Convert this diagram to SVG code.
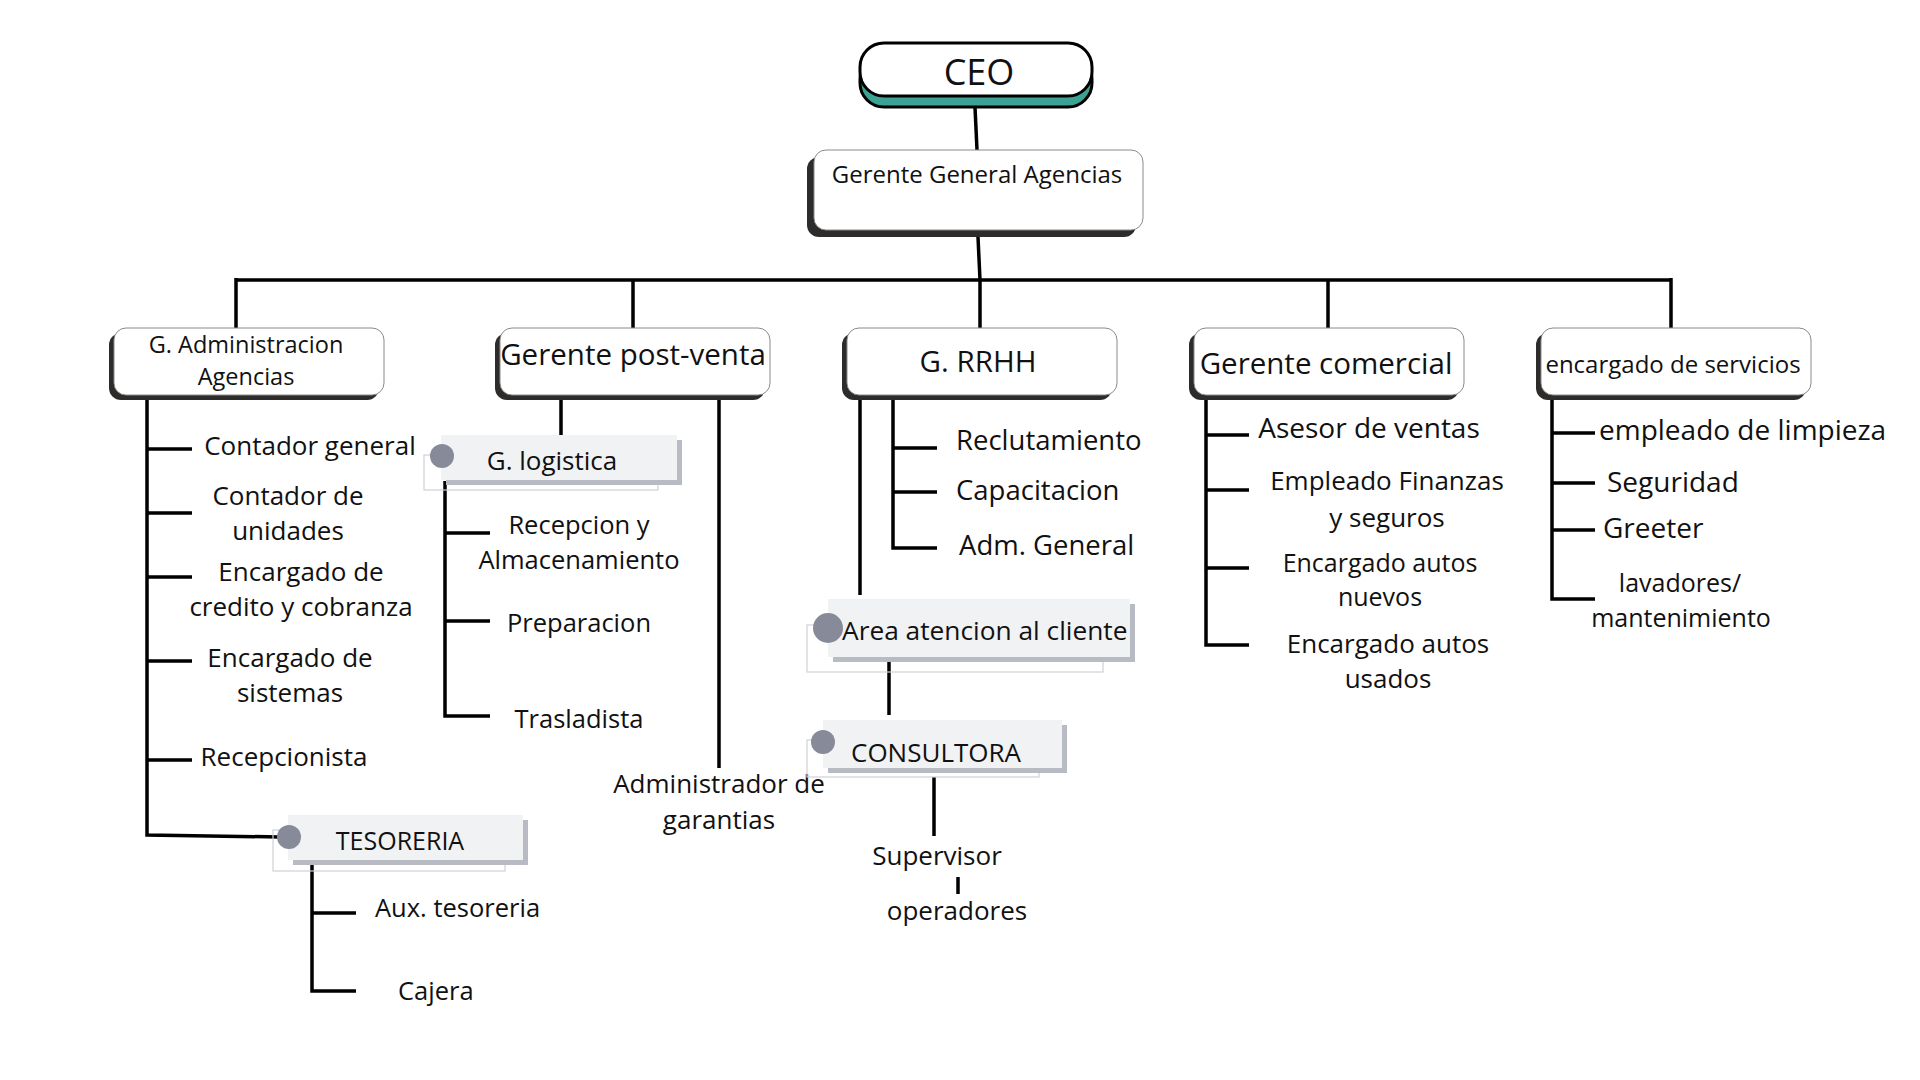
<svg xmlns="http://www.w3.org/2000/svg" width="1920" height="1080" viewBox="0 0 1920 1080">
<style>
text{font-family:"Open Sans","Noto Sans","Liberation Sans",sans-serif;fill:#111;}
.c{text-anchor:middle;}
.ln{stroke:#000;stroke-width:3.5;fill:none;stroke-linecap:butt;}
.sh{fill:#2e2c2a;}
.wb{fill:#fff;stroke:#8a8a8a;stroke-width:1;}
.lb{fill:#f1f2f4;}
.lbs{fill:#b8bbc3;}
.ol{fill:none;stroke:#cfd1d6;stroke-width:1.2;}
.dot{fill:#878a98;}
</style>
<rect width="1920" height="1080" fill="#fff"/>

<g id="connectors">
<path class="ln" d="M975 107 L977 150"/>
<path class="ln" d="M978 237 L980 280 L980 328"/>
<path class="ln" d="M236 280 H1671"/>
<path class="ln" d="M236 278 V328 M633 280 V328 M1328 280 V328 M1671 278 V328"/>
<path class="ln" d="M147 394 V835 L280 837"/>
<path class="ln" d="M147 449 H192 M147 513 H192 M147 577 H192 M147 661 H192 M147 760 H192"/>
<path class="ln" d="M561 399 V435 M719 399 V768"/>
<path class="ln" d="M445 481 V716 H490 M445 533 H490 M445 621 H490"/>
<path class="ln" d="M312 860 V991 H356 M312 913 H356"/>
<path class="ln" d="M860 395 V595 M893 395 V548 H937 M893 448 H937 M893 492 H937"/>
<path class="ln" d="M889 662 V715"/>
<path class="ln" d="M934 777 V836 M958 877 V894"/>
<path class="ln" d="M1206 395 V645 H1249 M1206 435 H1249 M1206 490 H1249 M1206 568 H1249"/>
<path class="ln" d="M1552 395 V599 H1595 M1552 433 H1595 M1552 483 H1595 M1552 530 H1595"/>
</g>

<g id="ceo">
<rect x="860" y="55" width="232" height="52" rx="24" fill="#3aa394" stroke="#000" stroke-width="3"/>
<rect x="860" y="43" width="232" height="53" rx="24" fill="#fff" stroke="#000" stroke-width="3"/>
<text class="c" x="979" y="85" font-size="36">CEO</text>
</g>

<g id="gerente-general">
<rect class="sh" x="807" y="157" width="329" height="80" rx="12"/>
<rect class="wb" x="814" y="150" width="329" height="80" rx="12"/>
<text class="c" x="977" y="183" font-size="24">Gerente General Agencias</text>
</g>

<g id="g-administracion">
<rect class="sh" x="109" y="333" width="270" height="67" rx="12"/>
<rect class="wb" x="114" y="328" width="270" height="67" rx="12"/>
<text class="c" x="246" y="353" font-size="23.5">G. Administracion</text>
<text class="c" x="246" y="385" font-size="23.5">Agencias</text>
</g>

<g id="gerente-postventa">
<rect class="sh" x="495" y="333" width="270" height="67" rx="12"/>
<rect class="wb" x="500" y="328" width="270" height="67" rx="12"/>
<text class="c" x="633" y="365" font-size="29.5">Gerente post-venta</text>
</g>

<g id="g-rrhh">
<rect class="sh" x="842" y="333" width="270" height="67" rx="12"/>
<rect class="wb" x="847" y="328" width="270" height="67" rx="12"/>
<text class="c" x="978" y="372" font-size="29.5">G. RRHH</text>
</g>

<g id="gerente-comercial">
<rect class="sh" x="1189" y="333" width="270" height="67" rx="12"/>
<rect class="wb" x="1194" y="328" width="270" height="67" rx="12"/>
<text class="c" x="1326" y="374" font-size="29.5">Gerente comercial</text>
</g>

<g id="encargado-servicios">
<rect class="sh" x="1536" y="333" width="270" height="67" rx="12"/>
<rect class="wb" x="1541" y="328" width="270" height="67" rx="12"/>
<text class="c" x="1673" y="373" font-size="24">encargado de servicios</text>
</g>

<g id="admin-children" font-size="26">
<text class="c" x="310" y="455">Contador general</text>
<text class="c" x="288" y="505">Contador de</text>
<text class="c" x="288" y="540">unidades</text>
<text class="c" x="301" y="581">Encargado de</text>
<text class="c" x="301" y="616">credito y cobranza</text>
<text class="c" x="290" y="667">Encargado de</text>
<text class="c" x="290" y="702">sistemas</text>
<text class="c" x="284" y="766">Recepcionista</text>
</g>

<g id="tesoreria">
<rect class="ol" x="273" y="830" width="232" height="41"/>
<rect class="lbs" x="293" y="820" width="235" height="45"/>
<rect class="lb" x="288" y="815" width="235" height="45"/>
<circle class="dot" cx="289" cy="837" r="12"/>
<text class="c" x="400" y="850" font-size="25">TESORERIA</text>
</g>
<g id="tesoreria-children" font-size="25.5">
<text x="375" y="917">Aux. tesoreria</text>
<text x="398" y="1000">Cajera</text>
</g>

<g id="g-logistica">
<rect class="ol" x="424" y="455" width="234" height="35"/>
<rect class="lbs" x="446" y="440" width="236" height="45"/>
<rect class="lb" x="441" y="435" width="236" height="45"/>
<circle class="dot" cx="442" cy="456" r="12"/>
<text class="c" x="552" y="470" font-size="26">G. logistica</text>
</g>
<g id="logistica-children" font-size="25.5">
<text class="c" x="579" y="534">Recepcion y</text>
<text class="c" x="579" y="569">Almacenamiento</text>
<text class="c" x="579" y="632">Preparacion</text>
<text class="c" x="579" y="728">Trasladista</text>
</g>
<g id="administrador-garantias" font-size="26">
<text class="c" x="719" y="793">Administrador de</text>
<text class="c" x="719" y="829">garantias</text>
</g>

<g id="rrhh-children" font-size="27.5">
<text x="956" y="450">Reclutamiento</text>
<text x="956" y="500">Capacitacion</text>
<text x="959" y="555">Adm. General</text>
</g>

<g id="area-atencion">
<rect class="ol" x="807" y="625" width="296" height="47"/>
<rect class="lbs" x="833" y="604" width="302" height="58"/>
<rect class="lb" x="828" y="599" width="302" height="58"/>
<circle class="dot" cx="828" cy="628" r="15"/>
<text x="842" y="640" font-size="26.3">Area atencion al cliente</text>
</g>

<g id="consultora">
<rect class="ol" x="807" y="740" width="232" height="37"/>
<rect class="lbs" x="828" y="725" width="239" height="48"/>
<rect class="lb" x="823" y="720" width="239" height="48"/>
<circle class="dot" cx="823" cy="742" r="12"/>
<text x="851" y="762" font-size="26">CONSULTORA</text>
</g>
<g id="supervisor" font-size="26">
<text class="c" x="937" y="865">Supervisor</text>
</g>
<g id="operadores" font-size="26">
<text class="c" x="957" y="920">operadores</text>
</g>

<g id="comercial-children">
<text class="c" x="1369" y="438" font-size="28">Asesor de ventas</text>
<text class="c" x="1387" y="490" font-size="26">Empleado Finanzas</text>
<text class="c" x="1387" y="527" font-size="26">y seguros</text>
<text class="c" x="1380" y="572" font-size="25">Encargado autos</text>
<text class="c" x="1380" y="606" font-size="25">nuevos</text>
<text class="c" x="1388" y="653" font-size="26">Encargado autos</text>
<text class="c" x="1388" y="688" font-size="26">usados</text>
</g>

<g id="servicios-children">
<text x="1599" y="440" font-size="28">empleado de limpieza</text>
<text x="1607" y="492" font-size="28">Seguridad</text>
<text x="1603" y="538" font-size="28">Greeter</text>
<text class="c" x="1680" y="592" font-size="25">lavadores/</text>
<text class="c" x="1681" y="627" font-size="25">mantenimiento</text>
</g>
</svg>
